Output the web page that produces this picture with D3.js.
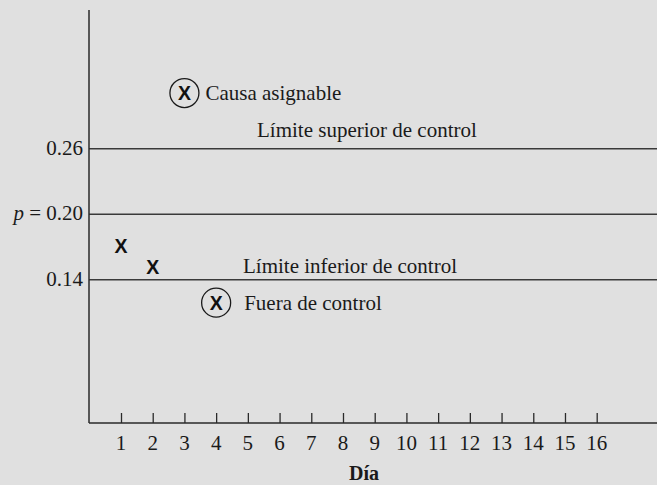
<!DOCTYPE html>
<html>
<head>
<meta charset="utf-8">
<script src="https://cdn.jsdelivr.net/npm/d3@7"></script>
<style>
  html, body { margin: 0; padding: 0; background: #e0e0e0; }
  svg { display: block; }
</style>
</head>
<body>
<script>
// Datos del gráfico de control p
const days = d3.range(1, 17);
const pointDays = [1, 2, 3, 4];
const pointValues = [0.171, 0.152, 0.311, 0.119];
const outOfControl = [false, false, true, true];
const notes = ["Causa asignable", "Fuera de control"];
const limitValues = [0.26, 0.20, 0.14];
const limitTickLabels = ["0.26", "= 0.20", "0.14"];
const limitTexts = ["Límite superior de control", "Límite inferior de control"];

const width = 657, height = 485;
const plotLeft = 89, plotBottom = 423, plotTop = 10;
const fs = 21;

const svg = d3.select("body").append("svg")
    .attr("width", width)
    .attr("height", height)
    .style("background", "#e0e0e0");

const serif = "'Liberation Serif', 'Times New Roman', serif";
const ink = "#1a1a1a";

// Escalas
const x = d3.scaleLinear().domain([1, 16]).range([121, 596.7]);
const y = d3.scaleLinear().domain([0.14, 0.26]).range([279.7, 148.7]);

// Líneas de control
svg.append("g")
    .selectAll("line")
    .data(limitValues)
    .join("line")
    .attr("x1", plotLeft)
    .attr("x2", width)
    .attr("y1", d => y(d))
    .attr("y2", d => y(d))
    .attr("stroke", "#3a3a3a")
    .attr("stroke-width", 1.5);

// Eje Y (solo la línea)
svg.append("line")
    .attr("x1", plotLeft).attr("x2", plotLeft)
    .attr("y1", plotTop).attr("y2", plotBottom)
    .attr("stroke", "#2a2a2a")
    .attr("stroke-width", 1.5);

// Etiquetas de los límites en el eje Y
const yLab = svg.append("g")
    .selectAll("text")
    .data(limitValues)
    .join("text")
    .attr("x", 83)
    .attr("y", d => y(d) + 6)
    .attr("text-anchor", "end")
    .attr("font-family", serif)
    .attr("font-size", fs)
    .attr("fill", ink);
yLab.each(function(d, i) {
    const t = d3.select(this);
    if (i === 1) t.append("tspan").attr("font-style", "italic").text("p ");
    t.append("tspan").text(limitTickLabels[i]);
});

// Eje X
const xAxis = d3.axisTop(x)
    .tickValues(days)
    .tickSize(10)
    .tickFormat("");
const gx = svg.append("g")
    .attr("transform", `translate(0,${plotBottom})`)
    .call(xAxis);
gx.select(".domain").remove();
gx.selectAll(".tick line").attr("stroke", "#2a2a2a").attr("stroke-width", 1.3);
svg.append("line")
    .attr("x1", plotLeft).attr("x2", width)
    .attr("y1", plotBottom).attr("y2", plotBottom)
    .attr("stroke", "#2a2a2a")
    .attr("stroke-width", 1.5);

svg.append("g")
    .selectAll("text")
    .data(days)
    .join("text")
    .attr("x", d => x(d))
    .attr("y", 450)
    .attr("text-anchor", "middle")
    .attr("font-family", serif)
    .attr("font-size", fs)
    .attr("fill", ink)
    .text(d => d);

svg.append("text")
    .attr("x", 364)
    .attr("y", 480)
    .attr("text-anchor", "middle")
    .attr("font-family", serif)
    .attr("font-weight", "bold")
    .attr("font-size", 20)
    .attr("fill", ink)
    .text("Día");

// Textos de los límites
svg.append("text")
    .attr("x", 257).attr("y", y(0.26) - 12)
    .attr("font-family", serif).attr("font-size", fs).attr("fill", ink)
    .text(limitTexts[0]);
svg.append("text")
    .attr("x", 243).attr("y", y(0.14) - 7)
    .attr("font-family", serif).attr("font-size", fs).attr("fill", ink)
    .text(limitTexts[1]);

// Puntos
const pts = pointDays.map((d, i) => ({ day: d, value: pointValues[i], out: outOfControl[i] }));
const pg = svg.append("g").selectAll("g")
    .data(pts)
    .join("g")
    .attr("transform", d => `translate(${x(d.day)},${y(d.value)})`);

pg.filter(d => d.out).append("circle")
    .attr("r", 14.5)
    .attr("fill", "none")
    .attr("stroke", ink)
    .attr("stroke-width", 1.3);

pg.append("text")
    .attr("text-anchor", "middle")
    .attr("dy", 7)
    .attr("font-family", "'Liberation Sans', Arial, sans-serif")
    .attr("font-weight", "bold")
    .attr("font-size", 19.5)
    .attr("fill", "#111")
    .text("X");

// Anotaciones de los puntos fuera de control
pg.filter(d => d.out).append("text")
    .attr("x", (d, i) => i === 0 ? 21 : 28)
    .attr("dy", 7)
    .attr("font-family", serif)
    .attr("font-size", fs)
    .attr("fill", ink)
    .text((d, i) => notes[i]);
</script>
</body>
</html>
